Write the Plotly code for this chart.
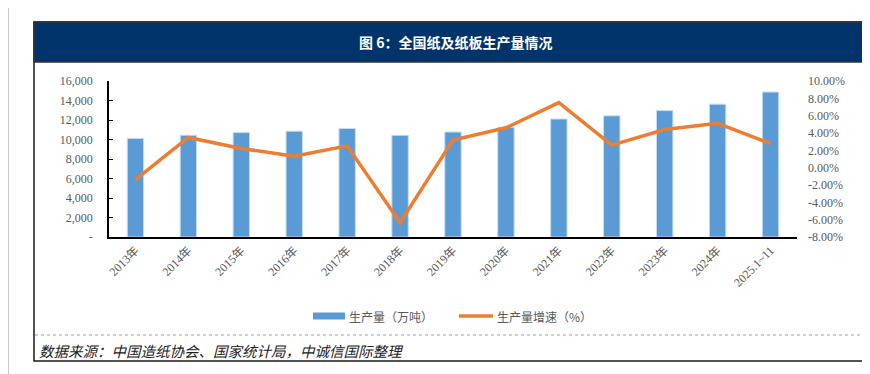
import plotly.graph_objects as go

categories = ["2013年", "2014年", "2015年", "2016年", "2017年", "2018年", "2019年",
              "2020年", "2021年", "2022年", "2023年", "2024年", "2025.1~11"]
output_wt = [10110, 10435, 10710, 10855, 11130, 10435, 10765,
             11260, 12105, 12425, 12965, 13625, 14870]
growth_pct = [-1.37, 3.49, 2.21, 1.33, 2.52, -6.34, 3.18,
              4.60, 7.50, 2.60, 4.41, 5.11, 2.79]
series_names = ["生产量（万吨）", "生产量增速（%）"]

left_ticks = [0, 2000, 4000, 6000, 8000, 10000, 12000, 14000, 16000]
left_ticktext = ["-", "2,000", "4,000", "6,000", "8,000", "10,000", "12,000", "14,000", "16,000"]
right_ticks = [-8, -6, -4, -2, 0, 2, 4, 6, 8, 10]
right_ticktext = ["%.2f%%" % v for v in right_ticks]

W, H = 870, 374
OFF = 8  # page body margin of the html

def py(y):
    return 1 - (y - OFF) / H

def px(x):
    return (x - OFF) / W

SERIF = "Liberation Serif, Times New Roman, Noto Sans CJK SC, serif"
CJK = "Noto Sans CJK SC"
GRAY = "#595959"
BLUE = "#5B9BD5"
ORANGE = "#ED7D31"

fig = go.Figure()
fig.add_trace(go.Bar(
    x=categories, y=output_wt, name=series_names[0],
    marker=dict(color=BLUE, line=dict(color="#C5DDF2", width=1)),
    width=0.31, yaxis="y", showlegend=False))
fig.add_trace(go.Scatter(
    x=categories, y=growth_pct, name=series_names[1], mode="lines",
    line=dict(color=ORANGE, width=3.5), yaxis="y2", showlegend=False))

shapes = [
    # page margin line
    dict(type="line", xref="paper", yref="paper", x0=px(8.6), x1=px(8.6), y0=0, y1=1.05,
         line=dict(color="#C8C8C8", width=1)),
    # frame
    dict(type="rect", xref="paper", yref="paper", x0=px(34), x1=px(867), y0=py(361), y1=py(22),
         line=dict(color="#1A1A1A", width=1.5), fillcolor="rgba(0,0,0,0)", layer="below"),
    # title bar
    dict(type="rect", xref="paper", yref="paper", x0=px(34), x1=px(867), y0=py(62), y1=py(22),
         line=dict(color="#333333", width=1.5), fillcolor="#00346A", layer="below"),
    # dotted separator
    dict(type="line", xref="paper", yref="paper", x0=px(35), x1=px(866), y0=py(335), y1=py(335),
         line=dict(color="#A0A0A0", width=1, dash="dot")),
    # legend symbols
    dict(type="rect", xref="paper", yref="paper", x0=px(313), x1=px(345), y0=py(319.5), y1=py(312.5),
         line=dict(width=0), fillcolor=BLUE),
    dict(type="line", xref="paper", yref="paper", x0=px(459), x1=px(493), y0=py(316), y1=py(316),
         line=dict(color=ORANGE, width=3.5)),
]

annotations = [
    dict(text="<b>图 6：全国纸及纸板生产量情况</b>", xref="paper", yref="paper",
         x=px(455), y=py(42), showarrow=False, xanchor="center", yanchor="middle",
         font=dict(family=CJK, size=14, color="white")),
    dict(text="<i>数据来源：中国造纸协会、国家统计局，中诚信国际整理</i>", xref="paper", yref="paper",
         x=px(37), y=py(350), showarrow=False, xanchor="left", yanchor="middle",
         font=dict(family=CJK, size=14.5, color="#222222")),
    dict(text=series_names[0], xref="paper", yref="paper",
         x=px(347), y=py(316), showarrow=False, xanchor="left", yanchor="middle",
         font=dict(family=CJK, size=12, color=GRAY)),
    dict(text=series_names[1], xref="paper", yref="paper",
         x=px(495), y=py(316), showarrow=False, xanchor="left", yanchor="middle",
         font=dict(family=CJK, size=12, color=GRAY)),
]

fig.update_layout(
    width=W, height=H,
    margin=dict(l=0, r=0, t=0, b=0),
    paper_bgcolor="white", plot_bgcolor="white",
    showlegend=False,
    xaxis=dict(domain=[px(109), px(797)], tickangle=-45,
               tickfont=dict(family=SERIF, size=12, color=GRAY),
               showline=True, linecolor="black", linewidth=1.5, ticks="",
               showgrid=False, automargin=False),
    yaxis=dict(domain=[py(237), py(81)], range=[0, 16000], tickvals=left_ticks,
               ticktext=left_ticktext, tickfont=dict(family=SERIF, size=12, color=GRAY),
               showline=True, linecolor="black", linewidth=1.5, ticks="inside",
               ticklen=4, tickcolor="black", showgrid=False, zeroline=False,
               automargin=False, ticklabelstandoff=12),
    yaxis2=dict(overlaying="y", side="right", range=[-8, 10], tickvals=right_ticks,
                ticktext=right_ticktext, tickfont=dict(family=SERIF, size=12, color=GRAY),
                showline=False, showgrid=False, zeroline=False, ticks="",
                automargin=False, ticklabelstandoff=10),
    shapes=shapes, annotations=annotations,
)

fig.write_html("out.html")
